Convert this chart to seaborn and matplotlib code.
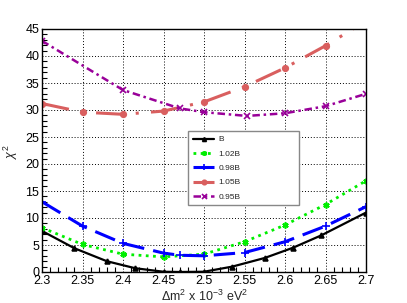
import numpy as np
import pandas as pd
import matplotlib
matplotlib.use("Agg")
import matplotlib.pyplot as plt
import seaborn as sns
from matplotlib.ticker import MultipleLocator, FormatStrFormatter

# --- datos ---
x_b = [2.30, 2.34, 2.38, 2.415, 2.45, 2.47, 2.50, 2.535, 2.575, 2.61, 2.645, 2.70]
y_b = [7.6, 4.4, 2.0, 0.7, 0.05, 0.0, 0.05, 1.0, 2.6, 4.5, 6.8, 11.0]

x_102 = [2.30, 2.35, 2.40, 2.45, 2.50, 2.55, 2.60, 2.65, 2.70]
y_102 = [8.2, 5.1, 3.3, 2.8, 3.3, 5.6, 8.7, 12.5, 16.9]

x_098 = [2.30, 2.35, 2.40, 2.45, 2.47, 2.50, 2.55, 2.60, 2.65, 2.70]
y_098 = [13.0, 8.5, 5.3, 3.5, 3.1, 3.0, 3.6, 5.6, 8.5, 12.1]

x_105 = [2.30, 2.35, 2.40, 2.45, 2.50, 2.55, 2.60, 2.65, 2.70]
y_105 = [31.2, 29.6, 29.2, 29.8, 31.5, 34.3, 37.8, 41.9, 46.5]

x_095 = [2.30, 2.40, 2.47, 2.50, 2.553, 2.60, 2.65, 2.70]
y_095 = [42.8, 33.7, 30.3, 29.6, 28.9, 29.4, 30.7, 33.0]

labels = ["B", "1.02B", "0.98B", "1.05B", "0.95B"]

series = [
    # (x, y, color, linestyle, marker, ms, lw)
    (x_b, y_b, "black", "-", "^", 3.5, 1.6),
    (x_102, y_102, "#00ee00", (0, (1, 1.6)), (6, 2, 0), 4.5, 2.0),
    (x_098, y_098, "#0000ff", (0, (7, 3)), "+", 6, 2.2),
    (x_105, y_105, "#d95f5f", (0, (9, 4, 1, 4)), "o", 4, 2.2),
    (x_095, y_095, "#990099", (0, (3, 1.5, 1, 1.5)), "x", 4.5, 1.8),
]

sns.set_theme(style="white")
plt.rcParams["font.family"] = ["Liberation Sans", "DejaVu Sans"]
plt.rcParams["mathtext.fontset"] = "custom"
plt.rcParams["mathtext.rm"] = "Liberation Sans"
plt.rcParams["mathtext.it"] = "Liberation Sans:italic"

fig = plt.figure(figsize=(4.07, 3.03), dpi=100)
ax = fig.add_axes([42 / 407, 1 - 272 / 303, 324 / 407, 243 / 303])

for (xs, ys, col, ls, mk, ms, lw), lab in zip(series, labels):
    sns.lineplot(x=xs, y=ys, ax=ax, color=col, linestyle=ls, linewidth=lw,
                 marker=mk, markersize=ms, markeredgecolor=col,
                 markeredgewidth=1.2, label=lab)

ax.set_xlim(2.3, 2.7)
ax.set_ylim(0, 45)
ax.xaxis.set_major_locator(MultipleLocator(0.05))
ax.xaxis.set_minor_locator(MultipleLocator(0.01))
ax.xaxis.set_major_formatter(FormatStrFormatter("%g"))
ax.yaxis.set_major_locator(MultipleLocator(5))
ax.yaxis.set_minor_locator(MultipleLocator(1))
ax.tick_params(which="both", direction="in", top=False, right=False,
               labelsize=9, colors="black", pad=2)
ax.tick_params(which="major", length=7, width=0.8)
ax.tick_params(which="minor", length=3.5, width=0.8, bottom=True, left=True)
ax.grid(True, which="major", color="black", linestyle=(0, (1, 2)), linewidth=0.7)
for sp in ax.spines.values():
    sp.set_color("black")
    sp.set_linewidth(1.0)

ax.set_xlabel("")
ax.set_ylabel("")
fig.text(204 / 407, 1 - 296 / 303, r"$\Delta$m$^{2}$ x 10$^{-3}$ eV$^{2}$",
         fontsize=9, ha="center", va="center")
fig.text(11 / 407, 1 - 152 / 303, r"$\chi^{2}$", fontsize=9, rotation=90,
         ha="center", va="center")

leg = ax.legend(loc="upper left", bbox_to_anchor=(0.451, 0.292, 0.342, 0.288),
                mode="expand", borderaxespad=0, fontsize=6, frameon=True,
                fancybox=False, handlelength=2.6, handletextpad=0.5,
                labelspacing=0.78, borderpad=0.55, markerscale=0.8)
leg.get_frame().set_edgecolor("#888888")
leg.get_frame().set_linewidth(1.0)
leg.get_frame().set_facecolor("white")
leg.get_frame().set_alpha(1)

fig.savefig("out.png", dpi=100, facecolor="white")
